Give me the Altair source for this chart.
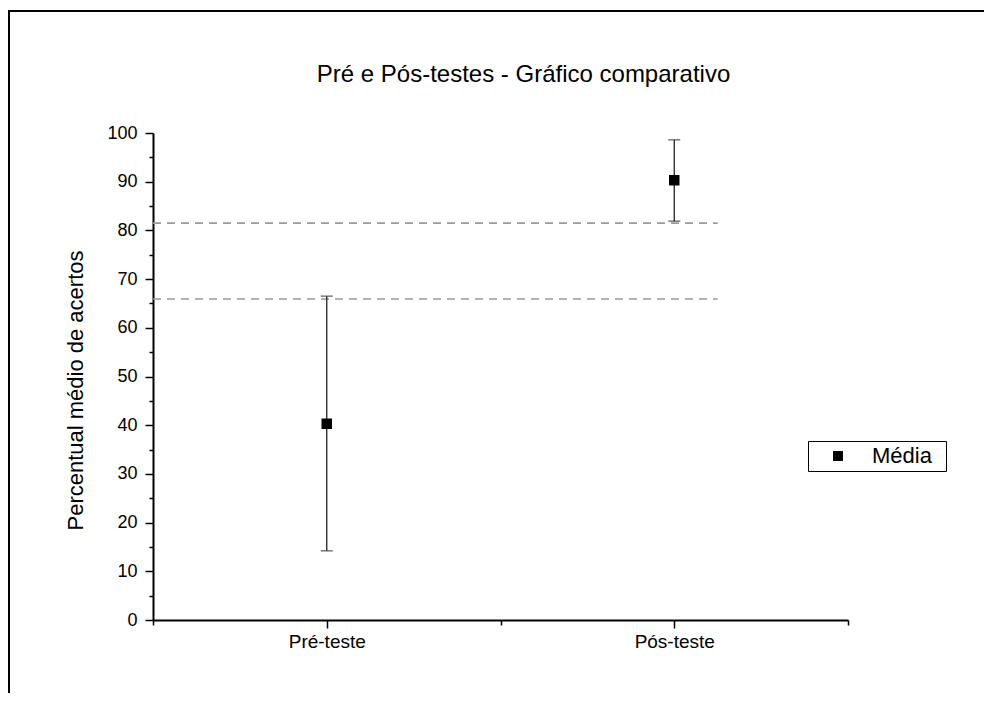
import altair as alt
import pandas as pd

# ---- data ----
categories = ["Pré-teste", "Pós-teste"]
means = [40.3, 90.3]
lower = [14.2, 81.9]
upper = [66.5, 98.6]
ref_lines = [81.5, 65.9]
ref_line_end = 2.125
series_name = "Média"
y_ticks = list(range(0, 101, 10))
y_minor = list(range(5, 100, 10))
x_minor = [0.5, 1.5, 2.5]

FONT = "Liberation Sans"

pos = list(range(1, len(categories) + 1))
df = pd.DataFrame({"pos": pos, "cat": categories, "mean": means,
                   "lo": lower, "hi": upper, "serie": [series_name] * len(pos)})
df_lines = pd.DataFrame({"y": ref_lines, "x0": [0.5] * len(ref_lines),
                         "x1": [ref_line_end] * len(ref_lines)})
df_minor = pd.DataFrame({"x": x_minor + [None] * (len(y_minor) - len(x_minor)),
                         "y": y_minor})

label_expr = " : ".join(
    [f"datum.value == {p} ? '{c}'" for p, c in zip(pos, categories)] + ["''"])

xscale = alt.Scale(domain=[0.5, 2.5], nice=False, zero=False)
yscale = alt.Scale(domain=[0, 100], nice=False)

lines = alt.Chart(df_lines).mark_rule(color="#9a9a9a", strokeDash=[8, 6], strokeWidth=1.6).encode(
    x=alt.X("x0:Q", scale=xscale, axis=None),
    x2="x1:Q",
    y=alt.Y("y:Q", scale=yscale, axis=None),
)

bars = alt.Chart(df).mark_rule(color="#222", strokeWidth=1.3).encode(
    x=alt.X("pos:Q", scale=xscale, axis=None),
    y=alt.Y("lo:Q", scale=yscale, axis=None),
    y2="hi:Q",
)

caps = alt.Chart(df).transform_fold(["lo", "hi"], as_=["k", "v"]).mark_tick(
    orient="horizontal", size=12, thickness=1.3, color="#222").encode(
    x=alt.X("pos:Q", scale=xscale, axis=None),
    y=alt.Y("v:Q", scale=yscale, axis=None),
)

points = alt.Chart(df).mark_point(shape="square", filled=True, size=110, color="black", opacity=1).encode(
    x=alt.X("pos:Q", scale=xscale, title=None,
            axis=alt.Axis(values=pos, labelExpr=label_expr, tickSize=8, labelPadding=4,
                          labelFontSize=19, grid=False)),
    y=alt.Y("mean:Q", scale=yscale, title="Percentual médio de acertos",
            axis=alt.Axis(values=y_ticks, tickSize=8, labelPadding=8, labelFontSize=18, grid=False,
                          titleFontSize=22, titleX=-78, titleY=257, titleAngle=270,
                          titleAlign="center", titleBaseline="middle")),
    shape=alt.Shape("serie:N", scale=alt.Scale(domain=[series_name], range=["square"]),
                    legend=alt.Legend(title="\u00a0", titleOrient="right", titlePadding=10,
                                      titleFontSize=2,
                                      orient="none", legendX=655, legendY=308,
                                      strokeColor="black", padding=4, symbolOffset=15,
                                      labelOffset=23, labelFontSize=22, symbolSize=100,
                                      symbolFillColor="black", symbolStrokeColor="black")),
)

minor_x = alt.Chart(df_minor).mark_point(opacity=0).encode(
    x=alt.X("x:Q", scale=xscale, title=None,
            axis=alt.Axis(values=x_minor, tickSize=5, labels=False, domain=False, grid=False,
                          orient="bottom")),
)
minor_y = alt.Chart(df_minor).mark_point(opacity=0).encode(
    y=alt.Y("y:Q", scale=yscale, title=None,
            axis=alt.Axis(values=y_minor, tickSize=4, labels=False, domain=False, grid=False,
                          orient="left")),
)

frame_df = pd.DataFrame({"k": [0]})
frame_top = alt.Chart(frame_df).mark_rule(color="black", strokeWidth=2).encode(
    x=alt.value(-146), x2=alt.value(900), y=alt.value(-122))
frame_left = alt.Chart(frame_df).mark_rule(color="black", strokeWidth=2).encode(
    x=alt.value(-144), y=alt.value(-123), y2=alt.value(700))

chart = alt.layer(
    lines, bars, caps, points, minor_x, minor_y, frame_top, frame_left
).resolve_axis(x="independent", y="independent").properties(
    width=695, height=487,
    autosize=alt.AutoSizeParams(type="none"),
    padding={"left": 145, "top": 125, "right": 136, "bottom": 73},
    title=alt.Title("Pré e Pós-testes - Gráfico comparativo", fontSize=24, font=FONT,
                    fontWeight="normal", color="black", anchor="middle", frame="group",
                    baseline="alphabetic", offset=-97, dx=23),
).configure_view(stroke=None).configure_axis(
    domainColor="black", domainWidth=2, tickColor="black", tickWidth=1.5,
    labelColor="black", titleColor="black", labelFont=FONT, titleFont=FONT,
    titleFontWeight="normal",
).configure_legend(labelFont=FONT, labelColor="black")

chart.save("out.html", embed_options={"renderer": "svg", "actions": False})
